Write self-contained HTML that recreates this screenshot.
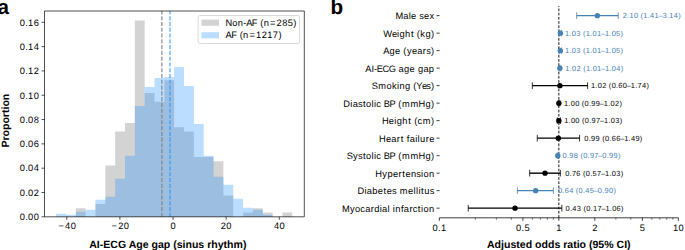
<!DOCTYPE html>
<html><head><meta charset="utf-8"><title>Figure</title>
<style>
html,body{margin:0;padding:0;background:#fff;}
body{width:685px;height:250px;overflow:hidden;}
svg{display:block;}
text{font-family:"Liberation Sans",sans-serif;text-rendering:geometricPrecision;}
</style></head>
<body>
<svg width="685" height="250" viewBox="0 0 685 250" style="font-family:'Liberation Sans',sans-serif">
<path d="M56.110,216.800 L56.110,216.800 L65.950,216.800 L65.950,216.800 L75.790,216.800 L75.790,208.269 L85.630,208.269 L85.630,216.800 L95.470,216.800 L95.470,204.004 L105.310,204.004 L105.310,165.617 L115.150,165.617 L115.150,131.495 L124.990,131.495 L124.990,122.964 L134.830,122.964 L134.830,20.598 L144.670,20.598 L144.670,93.107 L154.510,93.107 L154.510,101.638 L164.350,101.638 L164.350,80.312 L174.190,80.312 L174.190,127.229 L184.030,127.229 L184.030,131.495 L193.870,131.495 L193.870,157.086 L203.710,157.086 L203.710,157.086 L213.550,157.086 L213.550,161.352 L223.390,161.352 L223.390,195.474 L233.230,195.474 L233.230,216.800 L243.070,216.800 L243.070,212.535 L252.910,212.535 L252.910,208.269 L262.750,208.269 L262.750,212.535 L272.590,212.535 L272.590,216.800 L282.430,216.800 L282.430,212.535 L292.270,212.535 L292.270,216.800 Z" fill="#808080" fill-opacity="0.35"/>
<path d="M56.110,216.800 L56.110,213.803 L65.950,213.803 L65.950,214.802 L75.790,214.802 L75.790,211.806 L85.630,211.806 L85.630,209.808 L95.470,209.808 L95.470,199.820 L105.310,199.820 L105.310,196.823 L115.150,196.823 L115.150,178.844 L124.990,178.844 L124.990,155.870 L134.830,155.870 L134.830,105.928 L144.670,105.928 L144.670,86.950 L154.510,86.950 L154.510,77.960 L164.350,77.960 L164.350,76.961 L174.190,76.961 L174.190,66.973 L184.030,66.973 L184.030,85.951 L193.870,85.951 L193.870,123.907 L203.710,123.907 L203.710,155.870 L213.550,155.870 L213.550,176.846 L223.390,176.846 L223.390,184.837 L233.230,184.837 L233.230,198.821 L243.070,198.821 L243.070,207.810 L252.910,207.810 L252.910,209.808 L262.750,209.808 L262.750,214.802 L272.590,214.802 L272.590,216.800 L282.430,216.800 L282.430,216.800 L292.270,216.800 L292.270,216.800 Z" fill="#1e90ff" fill-opacity="0.3"/>
<line x1="161.85" y1="216.8" x2="161.85" y2="11.0" stroke="#808080" stroke-opacity="0.8" stroke-width="1.35" stroke-dasharray="4.1 1.68"/>
<line x1="170.0" y1="216.8" x2="170.0" y2="11.0" stroke="#1e90ff" stroke-opacity="0.7" stroke-width="1.35" stroke-dasharray="4.1 1.68"/>
<path d="M44.5,11.0 H304.3 V216.8 H44.5 Z" fill="none" stroke="#000" stroke-width="0.69" stroke-linejoin="miter"/>
<line x1="41.50" y1="216.80" x2="44.50" y2="216.80" stroke="#000" stroke-width="0.69"/>
<text x="19.72 25.21 28.12 33.71" y="220.10" style="font-size:9.3px">0.00</text>
<line x1="41.50" y1="192.49" x2="44.50" y2="192.49" stroke="#000" stroke-width="0.69"/>
<text x="19.72 25.21 28.12 33.71" y="195.79" style="font-size:9.3px">0.02</text>
<line x1="41.50" y1="168.18" x2="44.50" y2="168.18" stroke="#000" stroke-width="0.69"/>
<text x="19.72 25.21 28.12 33.71" y="171.48" style="font-size:9.3px">0.04</text>
<line x1="41.50" y1="143.86" x2="44.50" y2="143.86" stroke="#000" stroke-width="0.69"/>
<text x="19.72 25.21 28.12 33.71" y="147.16" style="font-size:9.3px">0.06</text>
<line x1="41.50" y1="119.55" x2="44.50" y2="119.55" stroke="#000" stroke-width="0.69"/>
<text x="19.72 25.21 28.12 33.71" y="122.85" style="font-size:9.3px">0.08</text>
<line x1="41.50" y1="95.24" x2="44.50" y2="95.24" stroke="#000" stroke-width="0.69"/>
<text x="19.72 25.21 28.12 33.71" y="98.54" style="font-size:9.3px">0.10</text>
<line x1="41.50" y1="70.93" x2="44.50" y2="70.93" stroke="#000" stroke-width="0.69"/>
<text x="19.72 25.21 28.12 33.71" y="74.23" style="font-size:9.3px">0.12</text>
<line x1="41.50" y1="46.62" x2="44.50" y2="46.62" stroke="#000" stroke-width="0.69"/>
<text x="19.72 25.21 28.12 33.71" y="49.92" style="font-size:9.3px">0.14</text>
<line x1="41.50" y1="22.30" x2="44.50" y2="22.30" stroke="#000" stroke-width="0.69"/>
<text x="19.72 25.21 28.12 33.71" y="25.60" style="font-size:9.3px">0.16</text>
<line x1="66.79" y1="216.8" x2="66.79" y2="219.80" stroke="#000" stroke-width="0.69"/>
<text x="58.48 65.09 70.69" y="228.70" style="font-size:9.3px">−40</text>
<line x1="119.91" y1="216.8" x2="119.91" y2="219.80" stroke="#000" stroke-width="0.69"/>
<text x="111.60 118.21 123.81" y="228.70" style="font-size:9.3px">−20</text>
<line x1="173.03" y1="216.8" x2="173.03" y2="219.80" stroke="#000" stroke-width="0.69"/>
<text x="170.44" y="228.70" style="font-size:9.3px">0</text>
<line x1="226.15" y1="216.8" x2="226.15" y2="219.80" stroke="#000" stroke-width="0.69"/>
<text x="220.76 226.36" y="228.70" style="font-size:9.3px">20</text>
<line x1="279.27" y1="216.8" x2="279.27" y2="219.80" stroke="#000" stroke-width="0.69"/>
<text x="273.88 279.48" y="228.70" style="font-size:9.3px">40</text>
<rect x="198.1" y="15.5" width="101.5" height="28" rx="2" ry="2" fill="#fff" fill-opacity="0.8" stroke="#cccccc" stroke-width="0.75"/>
<rect x="201.4" y="19.6" width="17.6" height="6.16" fill="#808080" fill-opacity="0.35"/>
<rect x="201.4" y="32.2" width="17.6" height="6.16" fill="#1e90ff" fill-opacity="0.3"/>
<text x="225.53 232.29 237.77 243.18 246.23 251.84 257.31 260.17 263.64 269.99 276.60 282.20 287.80 293.35" y="25.60" style="font-size:9.3px">Non-AF (n=285)</text>
<text x="225.51 231.31 236.79 239.65 243.11 249.46 256.08 261.68 267.27 272.87 278.43" y="38.30" style="font-size:9.3px">AF (n=1217)</text>
<text x="89.2" y="248" style="font-size:10.56px;font-weight:bold">AI-ECG Age gap (sinus rhythm)</text>
<text transform="translate(8.9,147.6) rotate(-90)" x="0" y="0" style="font-size:10.56px;font-weight:bold">Proportion</text>
<text x="-2.6" y="13.6" style="font-size:20.7px;font-weight:bold">a</text>
<text x="330.5" y="13.6" style="font-size:20.7px;font-weight:bold">b</text>
<line x1="558.85" y1="217.8" x2="558.85" y2="6.0" stroke="#000" stroke-width="0.9" stroke-dasharray="2.71 1.507" stroke-dashoffset="0"/>
<line x1="576.68" y1="15.63" x2="618.23" y2="15.63" stroke="#4682b4" stroke-width="1.4"/>
<line x1="576.68" y1="12.33" x2="576.68" y2="18.93" stroke="#4682b4" stroke-width="0.8"/>
<line x1="618.23" y1="12.33" x2="618.23" y2="18.93" stroke="#4682b4" stroke-width="0.8"/>
<circle cx="597.36" cy="15.63" r="2.7" fill="#4682b4"/>
<text x="622.71 627.10 629.43 633.91 638.30 640.59 643.37 647.76 650.09 654.57 658.57 662.57 666.96 669.29 673.77 678.20" y="18.03" style="font-size:7.4px" fill="#4682b4">2.10 (1.41–3.14)</text>
<text x="395.48 403.26 408.73 411.11 416.51 419.17 423.90 429.48" y="19.43" style="font-size:9.3px">Male sex</text>
<line x1="436.5" y1="15.63" x2="439.6" y2="15.63" stroke="#000" stroke-width="0.75"/>
<line x1="559.37" y1="33.13" x2="561.38" y2="33.13" stroke="#4682b4" stroke-width="1.4"/>
<line x1="559.37" y1="29.83" x2="559.37" y2="36.43" stroke="#4682b4" stroke-width="0.8"/>
<line x1="561.38" y1="29.83" x2="561.38" y2="36.43" stroke="#4682b4" stroke-width="0.8"/>
<circle cx="560.38" cy="33.13" r="2.7" fill="#4682b4"/>
<text x="565.06 569.45 571.78 576.26 580.65 582.94 585.72 590.11 592.44 596.92 600.92 604.92 609.31 611.64 616.11 620.55" y="35.53" style="font-size:7.4px" fill="#4682b4">1.03 (1.01–1.05)</text>
<text x="383.21 392.07 397.03 399.50 405.08 410.89 414.01 416.87 420.36 425.44 430.98" y="36.93" style="font-size:9.3px">Weight (kg)</text>
<line x1="436.5" y1="33.13" x2="439.6" y2="33.13" stroke="#000" stroke-width="0.75"/>
<line x1="559.37" y1="50.64" x2="561.38" y2="50.64" stroke="#4682b4" stroke-width="1.4"/>
<line x1="559.37" y1="47.34" x2="559.37" y2="53.94" stroke="#4682b4" stroke-width="0.8"/>
<line x1="561.38" y1="47.34" x2="561.38" y2="53.94" stroke="#4682b4" stroke-width="0.8"/>
<circle cx="560.38" cy="50.64" r="2.7" fill="#4682b4"/>
<text x="565.06 569.45 571.78 576.26 580.65 582.94 585.72 590.11 592.44 596.92 600.92 604.92 609.31 611.64 616.11 620.55" y="53.04" style="font-size:7.4px" fill="#4682b4">1.03 (1.01–1.05)</text>
<text x="383.26 389.58 395.08 400.48 403.33 406.88 411.93 417.33 422.87 426.20 430.98" y="54.44" style="font-size:9.3px">Age (years)</text>
<line x1="436.5" y1="50.64" x2="439.6" y2="50.64" stroke="#000" stroke-width="0.75"/>
<line x1="559.37" y1="68.14" x2="560.89" y2="68.14" stroke="#4682b4" stroke-width="1.4"/>
<line x1="559.37" y1="64.84" x2="559.37" y2="71.44" stroke="#4682b4" stroke-width="0.8"/>
<line x1="560.89" y1="64.84" x2="560.89" y2="71.44" stroke="#4682b4" stroke-width="0.8"/>
<circle cx="559.88" cy="68.14" r="2.7" fill="#4682b4"/>
<text x="565.27 569.66 571.98 576.46 580.85 583.14 585.93 590.32 592.64 597.12 601.12 605.12 609.51 611.84 616.32 620.76" y="70.54" style="font-size:7.4px" fill="#4682b4">1.02 (1.01–1.04)</text>
<text x="365.29 371.41 374.04 376.85 382.45 388.67 395.81 398.61 404.10 409.60 414.99 417.89 423.38 428.87" y="71.94" style="font-size:9.3px">AI-ECG age gap</text>
<line x1="436.5" y1="68.14" x2="439.6" y2="68.14" stroke="#000" stroke-width="0.75"/>
<line x1="532.34" y1="85.65" x2="587.60" y2="85.65" stroke="#000" stroke-width="1.4"/>
<line x1="532.34" y1="82.35" x2="532.34" y2="88.95" stroke="#000" stroke-width="0.8"/>
<line x1="587.60" y1="82.35" x2="587.60" y2="88.95" stroke="#000" stroke-width="0.8"/>
<circle cx="559.88" cy="85.65" r="2.7" fill="#000"/>
<text x="590.98 595.37 597.69 602.17 606.56 608.85 611.64 616.03 618.35 622.83 626.83 630.83 635.22 637.55 642.03 646.47" y="88.05" style="font-size:7.4px" fill="#000">1.02 (0.60–1.74)</text>
<text x="371.83 378.13 386.40 391.90 396.96 399.42 405.00 410.49 413.35 416.20 422.11 426.20 430.98" y="89.45" style="font-size:9.3px">Smoking (Yes)</text>
<line x1="436.5" y1="85.65" x2="439.6" y2="85.65" stroke="#000" stroke-width="0.75"/>
<line x1="558.33" y1="103.15" x2="559.88" y2="103.15" stroke="#000" stroke-width="1.4"/>
<line x1="558.33" y1="99.85" x2="558.33" y2="106.45" stroke="#000" stroke-width="0.8"/>
<line x1="559.88" y1="99.85" x2="559.88" y2="106.45" stroke="#000" stroke-width="0.8"/>
<circle cx="558.85" cy="103.15" r="2.7" fill="#000"/>
<text x="563.96 568.35 570.68 575.16 579.54 581.83 584.62 589.01 591.34 595.82 599.81 603.81 608.20 610.53 615.01 619.45" y="105.55" style="font-size:7.4px" fill="#000">1.00 (0.99–1.02)</text>
<text x="343.37 350.30 352.67 357.92 362.97 366.09 371.56 374.00 376.35 381.20 383.81 389.48 395.35 398.20 401.88 410.45 418.56 425.44 430.98" y="106.95" style="font-size:9.3px">Diastolic BP (mmHg)</text>
<line x1="436.5" y1="103.15" x2="439.6" y2="103.15" stroke="#000" stroke-width="0.75"/>
<line x1="557.27" y1="120.65" x2="560.38" y2="120.65" stroke="#000" stroke-width="1.4"/>
<line x1="557.27" y1="117.35" x2="557.27" y2="123.95" stroke="#000" stroke-width="0.8"/>
<line x1="560.38" y1="117.35" x2="560.38" y2="123.95" stroke="#000" stroke-width="0.8"/>
<circle cx="558.85" cy="120.65" r="2.7" fill="#000"/>
<text x="564.17 568.55 570.88 575.36 579.75 582.04 584.83 589.21 591.54 596.02 600.02 604.02 608.41 610.74 615.22 619.65" y="123.05" style="font-size:7.4px" fill="#000">1.00 (0.97–1.03)</text>
<text x="382.04 388.82 394.31 396.77 402.35 408.16 411.28 414.14 417.50 422.66 430.98" y="124.45" style="font-size:9.3px">Height (cm)</text>
<line x1="436.5" y1="120.65" x2="439.6" y2="120.65" stroke="#000" stroke-width="0.75"/>
<line x1="537.29" y1="138.16" x2="579.55" y2="138.16" stroke="#000" stroke-width="1.4"/>
<line x1="537.29" y1="134.86" x2="537.29" y2="141.46" stroke="#000" stroke-width="0.8"/>
<line x1="579.55" y1="134.86" x2="579.55" y2="141.46" stroke="#000" stroke-width="0.8"/>
<circle cx="558.33" cy="138.16" r="2.7" fill="#000"/>
<text x="584.33 588.72 591.04 595.52 599.91 602.20 604.99 609.38 611.70 616.18 620.18 624.18 628.57 630.90 635.38 639.82" y="140.56" style="font-size:7.4px" fill="#000">0.99 (0.66–1.49)</text>
<text x="379.11 385.90 391.31 396.85 400.64 403.76 406.71 409.66 415.13 417.58 420.04 425.67 429.15" y="141.96" style="font-size:9.3px">Heart failure</text>
<line x1="436.5" y1="138.16" x2="439.6" y2="138.16" stroke="#000" stroke-width="0.75"/>
<line x1="557.27" y1="155.66" x2="558.33" y2="155.66" stroke="#4682b4" stroke-width="1.4"/>
<line x1="557.27" y1="152.36" x2="557.27" y2="158.96" stroke="#4682b4" stroke-width="0.8"/>
<line x1="558.33" y1="152.36" x2="558.33" y2="158.96" stroke="#4682b4" stroke-width="0.8"/>
<circle cx="557.80" cy="155.66" r="2.7" fill="#4682b4"/>
<text x="562.51 566.90 569.23 573.71 578.09 580.38 583.17 587.56 589.89 594.37 598.37 602.36 606.75 609.08 613.56 618.00" y="158.06" style="font-size:7.4px" fill="#4682b4">0.98 (0.97–0.99)</text>
<text x="346.85 353.02 357.92 362.97 366.09 371.56 374.00 376.35 381.20 383.81 389.48 395.35 398.20 401.88 410.45 418.56 425.44 430.98" y="159.46" style="font-size:9.3px">Systolic BP (mmHg)</text>
<line x1="436.5" y1="155.66" x2="439.6" y2="155.66" stroke="#000" stroke-width="0.75"/>
<line x1="529.68" y1="173.17" x2="560.38" y2="173.17" stroke="#000" stroke-width="1.4"/>
<line x1="529.68" y1="169.87" x2="529.68" y2="176.47" stroke="#000" stroke-width="0.8"/>
<line x1="560.38" y1="169.87" x2="560.38" y2="176.47" stroke="#000" stroke-width="0.8"/>
<circle cx="545.02" cy="173.17" r="2.7" fill="#000"/>
<text x="565.17 569.55 571.88 576.36 580.75 583.04 585.83 590.21 592.54 597.02 601.02 605.02 609.41 611.74 616.22 620.65" y="175.57" style="font-size:7.4px" fill="#000">0.76 (0.57–1.03)</text>
<text x="375.32 382.27 387.41 392.91 398.46 402.25 405.39 410.88 416.23 421.03 423.39 428.88" y="176.97" style="font-size:9.3px">Hypertension</text>
<line x1="436.5" y1="173.17" x2="439.6" y2="173.17" stroke="#000" stroke-width="0.75"/>
<line x1="517.41" y1="190.67" x2="553.38" y2="190.67" stroke="#4682b4" stroke-width="1.4"/>
<line x1="517.41" y1="187.37" x2="517.41" y2="193.97" stroke="#4682b4" stroke-width="0.8"/>
<line x1="553.38" y1="187.37" x2="553.38" y2="193.97" stroke="#4682b4" stroke-width="0.8"/>
<circle cx="535.69" cy="190.67" r="2.7" fill="#4682b4"/>
<text x="557.96 562.35 564.68 569.16 573.55 575.84 578.62 583.01 585.34 589.82 593.82 597.82 602.21 604.54 609.01 613.45" y="193.07" style="font-size:7.4px" fill="#4682b4">0.64 (0.45–0.90)</text>
<text x="357.49 364.42 366.79 372.28 377.78 383.50 386.64 391.90 396.63 399.73 408.01 413.49 415.94 418.38 421.07 424.29 429.63" y="194.47" style="font-size:9.3px">Diabetes mellitus</text>
<line x1="436.5" y1="190.67" x2="439.6" y2="190.67" stroke="#000" stroke-width="0.75"/>
<line x1="468.24" y1="208.17" x2="561.87" y2="208.17" stroke="#000" stroke-width="1.4"/>
<line x1="468.24" y1="204.87" x2="468.24" y2="211.47" stroke="#000" stroke-width="0.8"/>
<line x1="561.87" y1="204.87" x2="561.87" y2="211.47" stroke="#000" stroke-width="0.8"/>
<circle cx="515.05" cy="208.17" r="2.7" fill="#000"/>
<text x="565.56 569.94 572.27 576.75 581.14 583.43 586.22 590.60 592.93 597.41 601.41 605.41 609.80 612.13 616.61 621.04" y="210.57" style="font-size:7.4px" fill="#000">0.43 (0.17–1.06)</text>
<text x="342.00 349.94 354.98 360.35 365.21 370.75 374.31 379.73 382.09 387.56 389.93 392.81 395.26 400.90 403.85 409.39 412.84 417.83 421.03 423.39 428.88" y="211.97" style="font-size:9.3px">Myocardial infarction</text>
<line x1="436.5" y1="208.17" x2="439.6" y2="208.17" stroke="#000" stroke-width="0.75"/>
<line x1="439.35" y1="217.8" x2="678.35" y2="217.8" stroke="#000" stroke-width="0.75"/>
<line x1="439.35" y1="217.8" x2="439.35" y2="220.80" stroke="#000" stroke-width="0.75"/>
<text x="432.57 438.06 440.96" y="231.00" style="font-size:9.3px">0.1</text>
<line x1="522.88" y1="217.8" x2="522.88" y2="220.80" stroke="#000" stroke-width="0.75"/>
<text x="516.09 521.59 524.49" y="231.00" style="font-size:9.3px">0.5</text>
<line x1="558.85" y1="217.8" x2="558.85" y2="220.80" stroke="#000" stroke-width="0.75"/>
<text x="556.26" y="231.00" style="font-size:9.3px">1</text>
<line x1="594.82" y1="217.8" x2="594.82" y2="220.80" stroke="#000" stroke-width="0.75"/>
<text x="592.24" y="231.00" style="font-size:9.3px">2</text>
<line x1="642.38" y1="217.8" x2="642.38" y2="220.80" stroke="#000" stroke-width="0.75"/>
<text x="639.79" y="231.00" style="font-size:9.3px">5</text>
<line x1="678.35" y1="217.8" x2="678.35" y2="220.80" stroke="#000" stroke-width="0.75"/>
<text x="672.96 678.56" y="231.00" style="font-size:9.3px">10</text>
<line x1="475.32" y1="217.8" x2="475.32" y2="219.60" stroke="#000" stroke-width="0.6"/>
<line x1="496.37" y1="217.8" x2="496.37" y2="219.60" stroke="#000" stroke-width="0.6"/>
<line x1="511.30" y1="217.8" x2="511.30" y2="219.60" stroke="#000" stroke-width="0.6"/>
<line x1="532.34" y1="217.8" x2="532.34" y2="219.60" stroke="#000" stroke-width="0.6"/>
<line x1="540.34" y1="217.8" x2="540.34" y2="219.60" stroke="#000" stroke-width="0.6"/>
<line x1="547.27" y1="217.8" x2="547.27" y2="219.60" stroke="#000" stroke-width="0.6"/>
<line x1="553.38" y1="217.8" x2="553.38" y2="219.60" stroke="#000" stroke-width="0.6"/>
<line x1="615.87" y1="217.8" x2="615.87" y2="219.60" stroke="#000" stroke-width="0.6"/>
<line x1="630.80" y1="217.8" x2="630.80" y2="219.60" stroke="#000" stroke-width="0.6"/>
<line x1="651.84" y1="217.8" x2="651.84" y2="219.60" stroke="#000" stroke-width="0.6"/>
<line x1="659.84" y1="217.8" x2="659.84" y2="219.60" stroke="#000" stroke-width="0.6"/>
<line x1="666.77" y1="217.8" x2="666.77" y2="219.60" stroke="#000" stroke-width="0.6"/>
<line x1="672.88" y1="217.8" x2="672.88" y2="219.60" stroke="#000" stroke-width="0.6"/>
<text x="487.0" y="248" style="font-size:10.56px;font-weight:bold">Adjusted odds ratio (95% CI)</text>
</svg>
</body></html>
